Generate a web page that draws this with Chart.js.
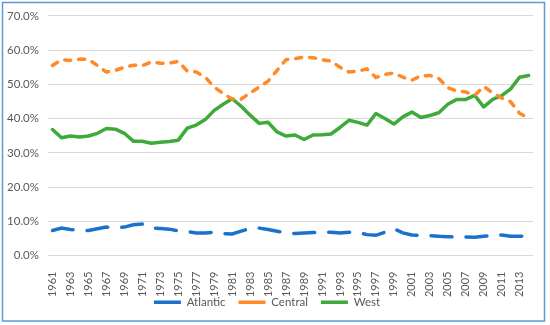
<!DOCTYPE html>
<html>
<head>
<meta charset="utf-8">
<script src="https://cdn.jsdelivr.net/npm/chart.js@4/dist/chart.umd.min.js"></script>
<style>
  html, body { margin: 0; padding: 0; background: #fff; }
  #wrap { position: absolute; left: 0; top: 0; width: 550px; height: 325px; }
</style>
</head>
<body>
<div id="wrap"><canvas id="c" width="550" height="325"></canvas></div>
<script>
const years = [];
for (let y = 1961; y <= 2014; y++) years.push(String(y));

const atlantic = [7.3, 8.0, 7.6, 7.4, 7.3, 7.8, 8.3, 8.2, 8.3, 9.0,
  9.2, 8.0, 7.9, 7.7, 7.2, 7.0, 6.6, 6.6, 6.8, 6.4,
  6.3, 7.1, 7.9, 8.0, 7.6, 7.1, 6.6, 6.4, 6.6, 6.7,
  6.8, 6.8, 6.6, 6.8, 6.8, 6.1, 5.9, 6.8, 7.8, 6.6,
  6.0, 5.9, 5.8, 5.6, 5.5, 5.4, 5.4, 5.3, 5.6, 5.8,
  6.0, 5.6, 5.6, 5.8];

const central = [55.5, 57.2, 57.0, 57.4, 57.3, 55.5, 53.6, 54.1, 55.0, 55.6,
  55.5, 56.5, 56.2, 56.2, 56.7, 53.9, 53.6, 52.1, 49.2, 47.3,
  45.7, 45.7, 47.5, 49.2, 50.9, 54.1, 57.2, 57.5, 58.0, 57.8,
  57.2, 56.8, 55.0, 53.6, 53.9, 54.5, 52.0, 52.9, 53.3, 52.1,
  51.2, 52.5, 52.6, 51.7, 49.0, 48.1, 47.8, 46.8, 49.4, 47.5,
  46.0, 44.9, 41.5, 40.2];

const west = [36.8, 34.4, 34.9, 34.6, 34.9, 35.7, 37.1, 36.9, 35.7, 33.4,
  33.4, 32.8, 33.1, 33.3, 33.7, 37.2, 38.1, 39.7, 42.4, 44.2,
  45.8, 43.6, 41.0, 38.6, 38.9, 36.1, 34.9, 35.2, 33.9, 35.2,
  35.3, 35.5, 37.4, 39.5, 38.9, 38.1, 41.5, 40.0, 38.4, 40.5,
  41.9, 40.3, 40.9, 41.7, 44.2, 45.6, 45.6, 46.8, 43.4, 45.6,
  46.7, 48.7, 52.1, 52.6];

const yTicks = [0, 10, 20, 30, 40, 50, 60, 70];

const borderPlugin = {
  id: 'frame',
  afterDraw(chart) {
    const ctx = chart.ctx;
    ctx.save();
    ctx.strokeStyle = '#5B9BD5';
    ctx.lineWidth = 1.5;
    ctx.strokeRect(2.5, 2.5, 542, 318.5);
    ctx.restore();
  }
};

const FONT = 'Lato';

new Chart(document.getElementById('c'), {
  type: 'line',
  data: {
    labels: years,
    datasets: [
      { label: 'Atlantic', data: atlantic, borderColor: '#1B72CC', backgroundColor: '#1B72CC',
        borderWidth: 3.5, borderDash: [21, 14], borderCapStyle: 'round', pointRadius: 0, tension: 0 },
      { label: 'Central', data: central, borderColor: '#FF8A2A', backgroundColor: '#FF8A2A',
        borderWidth: 3.5, borderDash: [6, 8], borderCapStyle: 'round', pointRadius: 0, tension: 0 },
      { label: 'West', data: west, borderColor: '#3DAA3A', backgroundColor: '#3DAA3A',
        borderWidth: 3.5, borderCapStyle: 'round', borderJoinStyle: 'round', pointRadius: 0, tension: 0 }
    ]
  },
  options: {
    responsive: false,
    animation: false,
    devicePixelRatio: 1,
    layout: { padding: { left: 0, right: 16, top: 15, bottom: 7 } },
    plugins: {
      legend: {
        position: 'bottom',
        labels: {
          usePointStyle: true,
          pointStyle: 'line',
          pointStyleWidth: 27,
          color: '#595959',
          font: { family: FONT, size: 11.5 },
          padding: 13
        }
      },
      tooltip: { enabled: false }
    },
    scales: {
      x: {
        offset: true,
        grid: { display: false },
        border: { display: false },
        ticks: {
          autoSkip: false,
          minRotation: 90,
          maxRotation: 90,
          padding: 8,
          color: '#595959',
          font: { family: FONT, size: 11 },
          callback: function (v, i) { return i % 2 === 0 ? years[i] : ''; }
        },
        afterFit: function (s) {
          s.height = 28;
          s._computeLabelArea = function () { return undefined; };
        }
      },
      y: {
        min: 0, max: 70,
        afterBuildTicks: function (s) { s.ticks = yTicks.map(v => ({ value: v })); },
        grid: { color: '#D9D9D9', drawTicks: false, lineWidth: 1 },
        border: { display: false },
        ticks: {
          padding: 9,
          color: '#595959',
          font: { family: FONT, size: 11.5 },
          callback: function (v) { return v.toFixed(1) + '%'; }
        },
        afterFit: function (s) { s.width = 48; }
      }
    }
  },
  plugins: [borderPlugin]
});
</script>
</body>
</html>
